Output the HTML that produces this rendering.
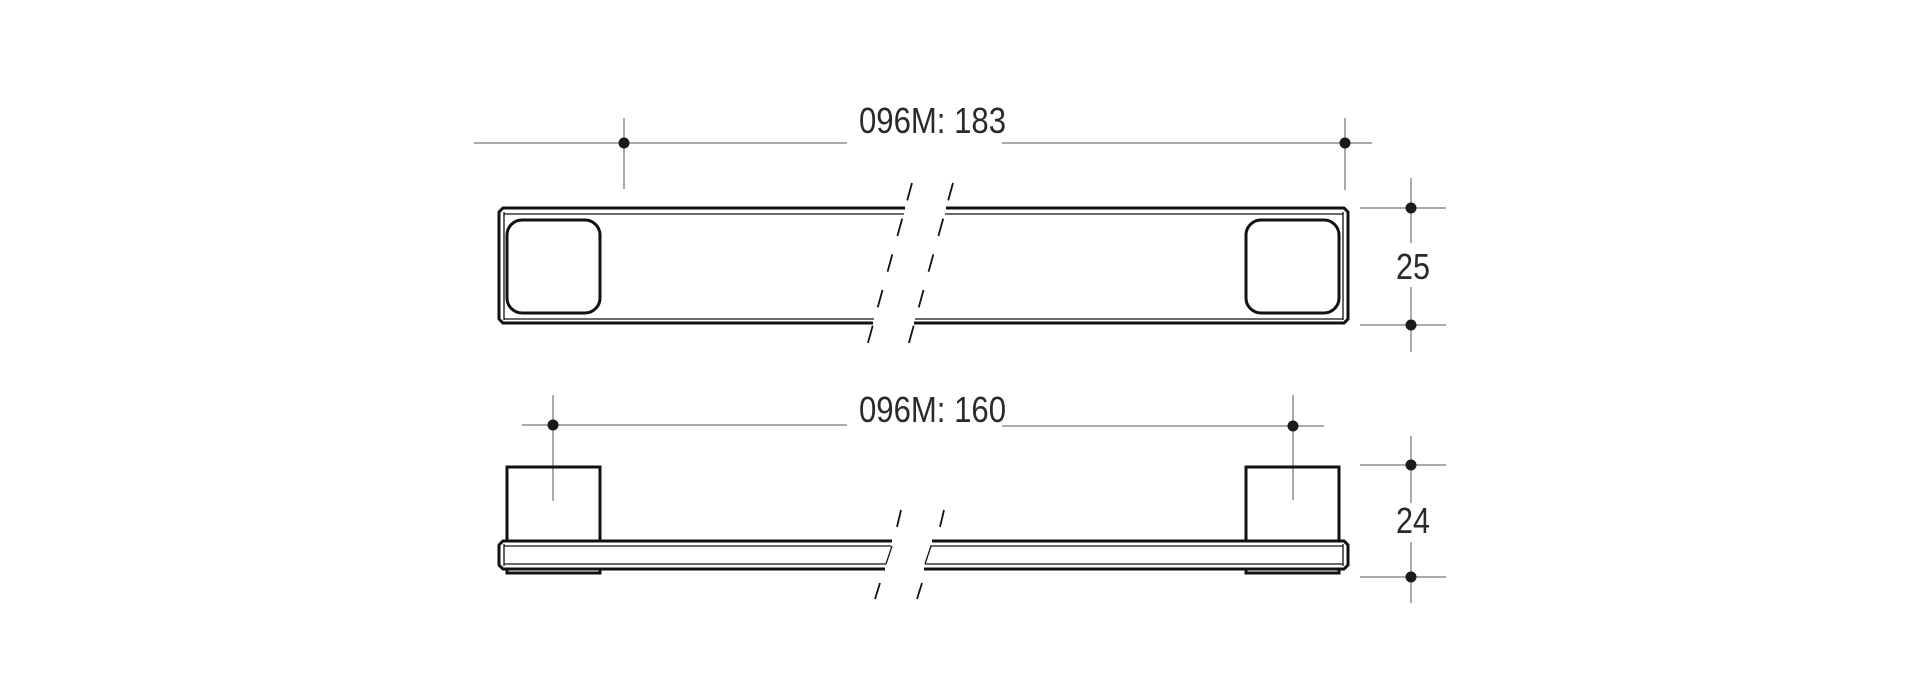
<!DOCTYPE html>
<html><head><meta charset="utf-8"><style>html,body{margin:0;padding:0;background:#fff;}svg{display:block}</style></head>
<body>
<svg width="1920" height="700" viewBox="0 0 1920 700" xmlns="http://www.w3.org/2000/svg">
<g font-family="Liberation Sans, sans-serif" font-size="36" fill="#2a2a2a">
<text x="859" y="133" textLength="147" lengthAdjust="spacingAndGlyphs">096M: 183</text>
<text x="859" y="422" textLength="147" lengthAdjust="spacingAndGlyphs">096M: 160</text>
<text x="1396" y="279" textLength="34" lengthAdjust="spacingAndGlyphs">25</text>
<text x="1396" y="533" textLength="34" lengthAdjust="spacingAndGlyphs">24</text>
</g>
<g stroke="#555" stroke-width="1" fill="none">
<line x1="474" y1="143" x2="847" y2="143"/>
<line x1="1002" y1="143" x2="1372" y2="143"/>
<line x1="624" y1="118" x2="624" y2="189"/>
<line x1="1345" y1="118" x2="1345" y2="190"/>
<line x1="1360" y1="208" x2="1446" y2="208"/>
<line x1="1360" y1="325" x2="1446" y2="325"/>
<line x1="1411" y1="178" x2="1411" y2="243"/>
<line x1="1411" y1="287" x2="1411" y2="352"/>
<line x1="522" y1="425" x2="847" y2="425"/>
<line x1="1002" y1="426" x2="1324" y2="426"/>
<line x1="553" y1="395" x2="553" y2="501"/>
<line x1="1293" y1="395" x2="1293" y2="500"/>
<line x1="1360" y1="465" x2="1446" y2="465"/>
<line x1="1360" y1="577" x2="1446" y2="577"/>
<line x1="1411" y1="436" x2="1411" y2="503"/>
<line x1="1411" y1="542" x2="1411" y2="603"/>
</g>
<g fill="#1a1a1a">
<circle cx="624" cy="143" r="5.5"/><circle cx="1345" cy="143" r="5.5"/>
<circle cx="1411" cy="208" r="5.5"/><circle cx="1411" cy="325" r="5.5"/>
<circle cx="553" cy="425" r="5.5"/><circle cx="1293" cy="426" r="5.5"/>
<circle cx="1411" cy="465" r="5.5"/><circle cx="1411" cy="577" r="5.5"/>
</g>
<g stroke="#111" fill="none" stroke-width="3">
<path d="M905 208 H503 L499 212 V319 L503 323 H873"/>
<path d="M946 208 H1344 L1348 212 V319 L1344 323 H914"/>
<rect x="507" y="220" width="93" height="93" rx="15"/>
<rect x="1246" y="220" width="93" height="93" rx="15"/>
</g>
<g stroke="#111" fill="none" stroke-width="1.3">
<line x1="504" y1="214" x2="904" y2="214"/>
<line x1="945" y1="214" x2="1343" y2="214"/>
<line x1="504" y1="319" x2="874" y2="319"/>
<line x1="915" y1="319" x2="1343" y2="319"/>
<line x1="504" y1="212" x2="504" y2="320"/>
<line x1="1343" y1="212" x2="1343" y2="320"/>
</g>
<g stroke="#111" stroke-width="1.8" stroke-dasharray="18 19">
<line x1="912" y1="183" x2="866" y2="350"/>
<line x1="953" y1="183" x2="907" y2="350"/>
</g>
<g stroke="#111" fill="none" stroke-width="3">
<path d="M507 541 V467 H600 V541"/>
<path d="M1246 541 V467 H1339 V541"/>
<path d="M892 541 H503 L499 545 V565 L503 569 H885"/>
<path d="M932 541 H1344 L1348 545 V565 L1344 569 H924"/>
<path d="M507 569 V573 H600 V569"/>
<path d="M1246 569 V573 H1339 V569"/>
</g>
<g stroke="#111" fill="none" stroke-width="1.3">
<line x1="504" y1="546" x2="891" y2="546"/>
<line x1="504" y1="564" x2="886" y2="564"/>
<line x1="930" y1="546" x2="1343" y2="546"/>
<line x1="925" y1="564" x2="1343" y2="564"/>
<line x1="892" y1="546" x2="886" y2="564"/>
<line x1="931" y1="546" x2="925" y2="564"/>
<line x1="504" y1="544" x2="504" y2="566"/>
<line x1="1343" y1="544" x2="1343" y2="566"/>
</g>
<g stroke="#111" stroke-width="1.8">
<line x1="901" y1="510" x2="897" y2="527"/>
<line x1="944" y1="510" x2="940" y2="527"/>
<line x1="880" y1="583" x2="875" y2="599"/>
<line x1="922" y1="583" x2="917" y2="599"/>
</g>
</svg>
</body></html>
